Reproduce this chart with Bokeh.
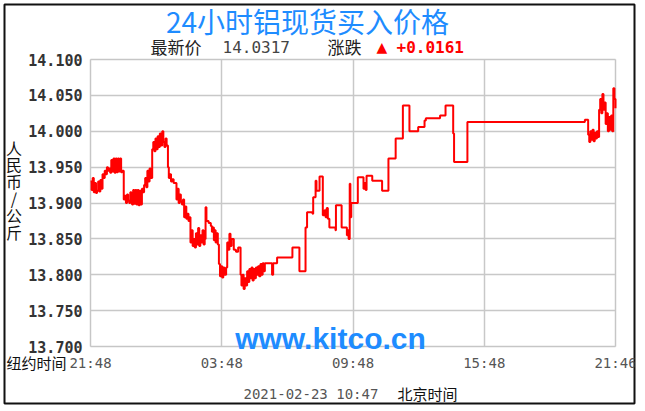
from bokeh.plotting import figure
from bokeh.models import Label, BoxAnnotation, FixedTicker, PrintfTickFormatter, Range1d
from bokeh.embed import file_html
from bokeh.resources import INLINE

title_text = "24小时铝现货买入价格"
latest_label = "最新价"
latest_value = "14.0317"
change_label = "涨跌"
change_value = "+0.0161"
y_axis_chars = ["人", "民", "币", "/", "公", "斤"]
ny_label = "纽约时间"
bj_time = "2021-02-23 10:47"
bj_label = "北京时间"
watermark = "www.kitco.cn"

x_tick_hours = [0, 6, 12, 18, 24]
x_tick_labels = ["21:48", "03:48", "09:48", "15:48", "21:46"]
y_ticks = [13.70, 13.75, 13.80, 13.85, 13.90, 13.95, 14.00, 14.05, 14.10]

hours = [
    0.00, 0.05, 0.10, 0.15, 0.20, 0.25, 0.30, 0.35, 0.40, 0.45, 0.50, 0.55, 0.60, 0.65, 0.70,
    0.75, 0.80, 0.85, 0.90, 0.95, 1.00, 1.05, 1.10, 1.15, 1.20, 1.25, 1.30, 1.35, 1.40, 1.45,
    1.52, 1.57, 1.62, 1.67, 1.72, 1.77, 1.82, 1.87, 1.90, 1.95, 2.00, 2.05, 2.10, 2.15, 2.20,
    2.25, 2.30, 2.35, 2.40, 2.45, 2.50, 2.55, 2.60, 2.65, 2.70, 2.75, 2.82, 2.87, 2.92, 2.97,
    3.02, 3.07, 3.12, 3.17, 3.22, 3.28, 3.33, 3.38, 3.43, 3.48, 3.54, 3.58, 3.63, 3.68, 3.73,
    3.80, 3.89, 3.93, 3.98, 4.03, 4.08, 4.13, 4.18, 4.23, 4.28, 4.33, 4.38, 4.43, 4.48, 4.53,
    4.57, 4.62, 4.67, 4.72, 4.77, 4.82, 4.87, 4.92, 4.97, 5.02, 5.07, 5.12, 5.17, 5.22, 5.26,
    5.30, 5.40, 5.50, 5.55, 5.60, 5.64, 5.68, 5.72, 5.77, 5.82, 5.87, 5.92, 5.97, 6.02, 6.07,
    6.12, 6.20, 6.25, 6.30, 6.35, 6.40, 6.45, 6.55, 6.65, 6.75, 6.86, 6.90, 6.95, 7.00, 7.05,
    7.10, 7.16, 7.21, 7.26, 7.31, 7.36, 7.41, 7.46, 7.51, 7.56, 7.61, 7.66, 7.71, 7.77, 7.82,
    7.87, 7.92, 7.97, 8.08, 8.20, 8.30, 8.35, 8.53, 9.23, 9.51, 9.55, 9.78, 9.83, 9.90, 10.15,
    10.18, 10.29, 10.33, 10.47, 10.55, 10.62, 10.70, 10.75, 10.80, 10.85, 10.92, 11.20, 11.22,
    11.45, 11.48, 11.68, 11.72, 11.76, 11.80, 11.85, 11.88, 11.92, 12.20, 12.22, 12.45, 12.48,
    12.52, 12.58, 12.62, 12.85, 12.88, 13.30, 13.33, 13.60, 13.62, 13.93, 13.95, 14.25, 14.28,
    14.55, 14.58, 14.95, 14.98, 15.25, 15.27, 15.33, 15.95, 15.98, 16.20, 16.23, 16.55, 16.58,
    16.62, 17.20, 17.23, 22.55, 22.60, 22.72, 22.75, 22.80, 22.85, 22.90, 22.95, 23.00, 23.05,
    23.10, 23.15, 23.20, 23.25, 23.30, 23.35, 23.40, 23.45, 23.50, 23.55, 23.60, 23.65, 23.70,
    23.75, 23.80, 23.85, 23.90, 23.95, 24.00,
]
prices = [
    13.930, 13.918, 13.935, 13.915, 13.928, 13.914, 13.917, 13.930, 13.916, 13.932, 13.920, 13.940, 13.935, 13.945, 13.940,
    13.950, 13.945, 13.948, 13.942, 13.960, 13.944, 13.962, 13.942, 13.962, 13.943, 13.962, 13.944, 13.962, 13.943, 13.945,
    13.905, 13.910, 13.900, 13.912, 13.903, 13.900, 13.915, 13.910, 13.898, 13.918, 13.899, 13.918, 13.898, 13.918, 13.897,
    13.917, 13.898, 13.920, 13.915, 13.925, 13.935, 13.922, 13.945, 13.930, 13.948, 13.935, 13.975, 13.985, 13.972, 13.990,
    13.975, 13.993, 13.978, 13.997, 13.980, 14.000, 13.985, 13.978, 13.990, 13.980, 13.950, 13.935, 13.940, 13.930, 13.933,
    13.928, 13.928, 13.905, 13.920, 13.900, 13.912, 13.902, 13.898, 13.905, 13.880, 13.895, 13.878, 13.885, 13.875, 13.880,
    13.845, 13.862, 13.840, 13.850, 13.838, 13.858, 13.842, 13.865, 13.840, 13.855, 13.845, 13.862, 13.842, 13.850, 13.894,
    13.875, 13.872, 13.868, 13.860, 13.866, 13.848, 13.862, 13.845, 13.858, 13.842, 13.815, 13.798, 13.812, 13.796, 13.810,
    13.800, 13.810, 13.845, 13.835, 13.857, 13.840, 13.850, 13.835, 13.832, 13.838, 13.800, 13.785, 13.800, 13.780, 13.795,
    13.785, 13.805, 13.790, 13.808, 13.795, 13.810, 13.792, 13.808, 13.795, 13.810, 13.800, 13.812, 13.798, 13.815, 13.800,
    13.816, 13.805, 13.816, 13.816, 13.816, 13.800, 13.816, 13.824, 13.838, 13.838, 13.805, 13.805, 13.866, 13.887, 13.885,
    13.908, 13.931, 13.917, 13.937, 13.937, 13.883, 13.890, 13.880, 13.893, 13.878, 13.866, 13.862, 13.897,
    13.897, 13.866, 13.866, 13.855, 13.862, 13.850, 13.927, 13.880, 13.900, 13.900, 13.936, 13.936, 13.920,
    13.928, 13.918, 13.938, 13.938, 13.931, 13.931, 13.917, 13.917, 13.962, 13.962, 13.990, 13.990, 14.036,
    14.036, 14.000, 14.000, 14.006, 14.006, 14.015, 14.018, 14.018, 14.022, 14.022, 14.036, 14.036, 13.997,
    13.957, 13.957, 14.013, 14.013, 14.016, 14.016, 13.995, 13.985, 14.000, 13.988, 14.002, 13.986, 13.998,
    13.990, 14.000, 13.992, 14.030, 14.045, 14.025, 14.052, 14.030, 14.040, 14.010, 14.025, 14.000, 14.020,
    14.002, 14.022, 14.000, 14.060, 14.045, 14.032,
]

CJK = "Noto Sans CJK SC"
MONO = "DejaVu Sans Mono"
BLUE = "#1e8cff"
GRID = "#c8c8c8"

# layout (canvas pixels): plot area and outer frame
W, H = 638, 406
PL, PR, PT, PB = 90, 615, 59, 346
FL, FR, FT, FB = 4, 634, 4, 403
X0, X1 = 0.0, 24.0
Y0, Y1 = 13.7, 14.1
kx = (X1 - X0) / (PR - PL)
ky = (Y1 - Y0) / (PB - PT)
x_range = Range1d(X0 - (PL - FL) * kx, X1 + (FR - PR) * kx)
y_range = Range1d(Y0 - (FB - PB) * ky, Y1 + (PT - FT) * ky)

p = figure(width=W, height=H, output_backend="svg", toolbar_location=None,
           x_range=x_range, y_range=y_range,
           min_border_left=FL, min_border_right=W - FR, min_border_top=FT, min_border_bottom=H - FB,
           background_fill_color="white", border_fill_color="white")

p.outline_line_color = "#111111"
p.outline_line_width = 2

# grids limited to plot area
p.xgrid.ticker = FixedTicker(ticks=x_tick_hours)
p.ygrid.ticker = FixedTicker(ticks=y_ticks)
p.xgrid.grid_line_color = GRID
p.ygrid.grid_line_color = GRID
p.xgrid.grid_line_width = 1.5
p.ygrid.grid_line_width = 1.5
try:
    p.xgrid.bounds = (X0, X1)
    p.ygrid.bounds = (Y0, Y1)
    p.xgrid.cross_bounds = (Y0, Y1)
    p.ygrid.cross_bounds = (X0, X1)
except Exception:
    p.xgrid.visible = False
    p.ygrid.visible = False
    p.segment(x0=x_tick_hours, y0=[Y0] * len(x_tick_hours), x1=x_tick_hours, y1=[Y1] * len(x_tick_hours),
              line_color=GRID, line_width=1.5)
    p.segment(x0=[X0] * len(y_ticks), y0=y_ticks, x1=[X1] * len(y_ticks), y1=y_ticks,
              line_color=GRID, line_width=1.5)

p.add_layout(BoxAnnotation(left=X0, right=X1, bottom=Y0, top=Y1, fill_alpha=0,
                           line_color="#c4c4c4", line_width=1, level="underlay"))

p.step(hours, prices, mode="after", line_color="#ff0000", line_width=2)

p.yaxis.fixed_location = X0
p.yaxis.ticker = FixedTicker(ticks=y_ticks)
p.yaxis.formatter = PrintfTickFormatter(format="%.3f")
p.yaxis.axis_line_color = None
p.yaxis.major_tick_line_color = None
p.yaxis.minor_tick_line_color = None
p.yaxis.major_tick_out = 0
p.yaxis.major_tick_in = 0
p.yaxis.major_label_text_font = MONO
p.yaxis.major_label_text_font_style = "bold"
p.yaxis.major_label_text_font_size = "15px"
p.yaxis.major_label_text_color = "#333333"
p.yaxis.major_label_standoff = 8

p.xaxis.fixed_location = Y0
p.xaxis.ticker = FixedTicker(ticks=x_tick_hours)
p.xaxis.major_label_overrides = {h: lab for h, lab in zip(x_tick_hours, x_tick_labels)}
p.xaxis.axis_line_color = None
p.xaxis.major_tick_line_color = None
p.xaxis.minor_tick_line_color = None
p.xaxis.major_tick_out = 0
p.xaxis.major_tick_in = 0
p.xaxis.major_label_text_font = MONO
p.xaxis.major_label_text_font_size = "14px"
p.xaxis.major_label_text_color = "#555555"
p.xaxis.major_label_standoff = 8


def lab(x, y, text, font=CJK, size="16px", color="#222222", align="left", style="normal"):
    p.add_layout(Label(x=x, y=y, x_units="canvas", y_units="canvas", text=text,
                       text_font=font, text_font_size=size, text_color=color,
                       text_align=align, text_baseline="middle", text_font_style=style))


lab(307, 20, title_text, size="28px", color=BLUE, align="center")
lab(150, 46, latest_label, size="17px")
lab(222, 46, latest_value, font=MONO, size="16px", color="#444444")
lab(327, 46, change_label, size="17px")
lab(376, 46, "▲", font="DejaVu Sans", size="14px", color="#ff0000")
lab(396, 46, change_value, font=MONO, size="16px", color="#ff0000", style="bold")
for i, ch in enumerate(y_axis_chars):
    lab(13.5, 147 + i * 16.8, ch, size="16px", color="#111111", align="center")
lab(6, 362, ny_label, size="15px", color="#111111")
lab(243, 393, bj_time, font=MONO, size="14px", color="#555555")
lab(397, 393, bj_label, size="15px", color="#111111")
lab(330, 338, watermark, font="Liberation Sans", size="30px", color=BLUE, align="center", style="bold")

open("out.html", "w").write(file_html(p, INLINE))
